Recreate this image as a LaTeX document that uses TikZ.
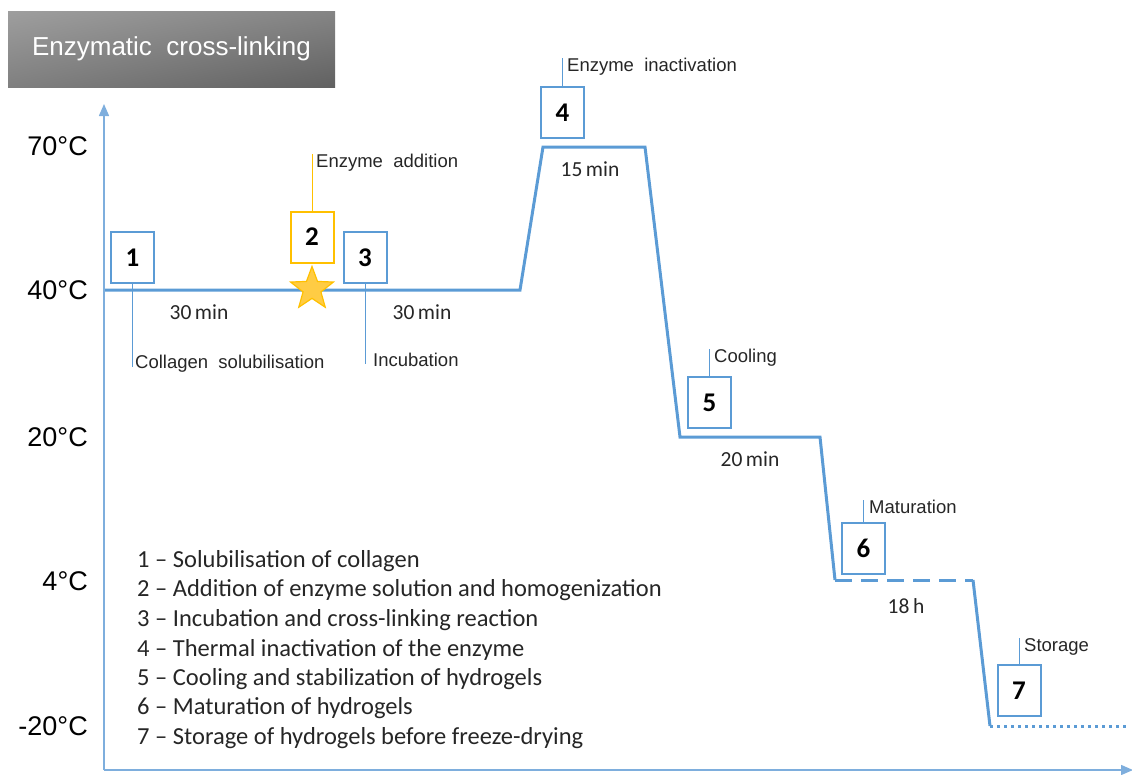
\documentclass[tikz,border=0pt]{standalone}
\usepackage{fontspec}
\setmainfont{Liberation Sans}
\newfontfamily\calib{Carlito}
\usetikzlibrary{shapes.geometric,arrows.meta,shadings}
\definecolor{pblue}{HTML}{5B9BD5}
\definecolor{axblue}{HTML}{7EAEDD}
\definecolor{gold}{HTML}{FFC000}
\definecolor{starfill}{HTML}{FFCC44}
\definecolor{txt}{HTML}{262626}
\tikzset{
  numbox/.style={draw=pblue, line width=2pt, fill=white, minimum width=43pt, minimum height=51pt, inner sep=0pt,
    font=\calib\bfseries\fontsize{27}{27}\selectfont, text=black},
  goldbox/.style={numbox, draw=gold},
  leader/.style={draw=pblue, line width=0.9pt},
  goldleader/.style={draw=gold, line width=0.9pt},
  lbl/.style={anchor=west, inner sep=0pt, font=\fontsize{18.5}{18.5}\selectfont, text=txt},
  templbl/.style={anchor=east, inner sep=0pt, font=\fontsize{27}{27}\selectfont, text=black},
  dur/.style={inner sep=0pt, font=\calib\fontsize{21.5}{21.5}\selectfont, text=txt},
  profile/.style={draw=pblue, line width=3pt, line join=miter},
  axis/.style={draw=axblue, line width=1.5pt},
  legend/.style={anchor=west, inner sep=0pt, font=\calib\fontsize{24.5}{24.5}\selectfont, text=txt}
}
\begin{document}
\begin{tikzpicture}[x=1pt,y=-1pt]
\useasboundingbox (0,0) rectangle (1132,774);
% title
\node[shade, upper left=black!38, upper right=black!48, lower left=black!50, lower right=black!62,
  minimum width=327pt, minimum height=76pt, inner sep=0pt, text=white,
  font=\fontsize{26}{26}\selectfont] (title) at (171.5,49) {Enzymatic\ \ cross-linking};
% axes
\coordinate (o) at (104,770);
\coordinate (ytop) at (104,104);
\coordinate (xend) at (1133,770);
\draw[axis, -{Triangle[length=12pt,width=10pt]}] (o) -- (ytop);
\draw[axis, -{Triangle[length=12pt,width=10pt]}] (o) -- (xend);
% temperature labels
\node[templbl] (t70) at (88,146) {70°C};
\node[templbl] (t40) at (88,290) {40°C};
\node[templbl] (t20) at (88,437) {20°C};
\node[templbl] (t4) at (88,581) {4°C};
\node[templbl] (tm20) at (88,726) {-20°C};
% profile
\coordinate (p0) at (105,290);
\coordinate (p1) at (520,290);
\coordinate (p2) at (543,147);
\coordinate (p3) at (645,147);
\coordinate (p4) at (680,437);
\coordinate (p5) at (820,437);
\coordinate (p6) at (835,580);
\coordinate (p7) at (973,580);
\coordinate (p8) at (990,726);
\coordinate (p9) at (1128,726);
\draw[profile] (p0) -- (p1) -- (p2) -- (p3) -- (p4) -- (p5) -- (p6);
\draw[profile, dash pattern=on 17pt off 9pt] (p6) -- (p7);
\draw[profile] (p7) -- (p8);
\draw[profile, line width=3pt, dash pattern=on 3pt off 4pt] (p8) -- (p9);
% boxes
\node[numbox] (b1) at (132.5,257.5) {1};
\node[goldbox] (b2) at (312,237) {2};
\node[numbox] (b3) at (365,257.5) {3};
\node[numbox] (b4) at (562.5,112.5) {4};
\node[numbox] (b5) at (709.5,402.5) {5};
\node[numbox] (b6) at (863.5,548.5) {6};
\node[numbox] (b7) at (1019,690.5) {7};
% star
\node[star, star points=5, star point ratio=2.4, minimum size=45pt, inner sep=0pt,
  fill=starfill, draw=gold, line width=1.2pt] (star) at (312,289) {};
% leader labels
\node[lbl] (l1) at (135,364) {Collagen\ \ solubilisation};
\node[lbl] (l3) at (373,360) {Incubation};
\node[lbl] (l2) at (316,163) {Enzyme\ \ addition};
\node[lbl] (l4) at (567,67) {Enzyme\ \ inactivation};
\node[lbl] (l5) at (714,358) {Cooling};
\node[lbl] (l6) at (869,507) {Maturation};
\node[lbl] (l7) at (1024,647) {Storage};
\draw[leader] (b1.south) -- ++(0,83);
\draw[leader] (b3.south) -- ++(0,80);
\draw[goldleader] (b2.north) -- (b2.north |- l2.north);
\draw[leader] (b4.north) -- (b4.north |- l4.north);
\draw[leader] (b5.north) -- (b5.north |- l5.north);
\draw[leader] (b6.north) -- (b6.north |- l6.north);
\draw[leader] (b7.north) -- (b7.north |- l7.north);
% durations
\node[dur] (d1) at (199,312) {30\,min};
\node[dur] (d3) at (422,312) {30\,min};
\node[dur] (d4) at (590,169) {15\,min};
\node[dur] (d5) at (750,459) {20\,min};
\node[dur] (d6) at (906,606) {18\,h};
% legend
\node[legend] (g1) at (137,561) {1 – Solubilisation of collagen};
\node[legend] (g2) at (137,590.5) {2 – Addition of enzyme solution and homogenization};
\node[legend] (g3) at (137,620) {3 – Incubation and cross-linking reaction};
\node[legend] (g4) at (137,649.5) {4 – Thermal inactivation of the enzyme};
\node[legend] (g5) at (137,679) {5 – Cooling and stabilization of hydrogels};
\node[legend] (g6) at (137,708.5) {6 – Maturation of hydrogels};
\node[legend] (g7) at (137,738) {7 – Storage of hydrogels before freeze-drying};
\end{tikzpicture}
\end{document}
